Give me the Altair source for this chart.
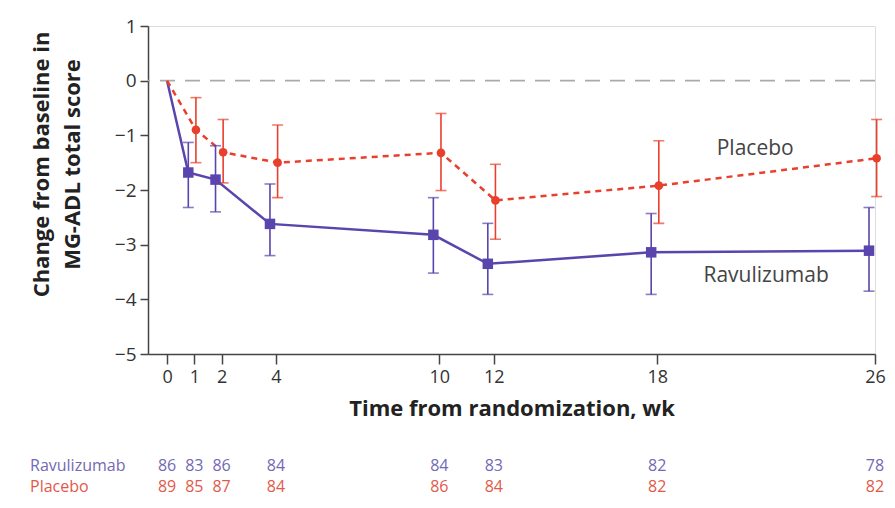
import altair as alt
import pandas as pd

weeks = [0, 1, 2, 4, 10, 12, 18, 26]
ravu_mean = [0, -1.68, -1.81, -2.62, -2.82, -3.35, -3.14, -3.11]
ravu_lo = [None, -2.32, -2.40, -3.20, -3.52, -3.91, -3.91, -3.85]
ravu_hi = [None, -1.13, -1.19, -1.89, -2.14, -2.61, -2.43, -2.32]
plac_mean = [0, -0.90, -1.31, -1.50, -1.32, -2.19, -1.92, -1.42]
plac_lo = [None, -1.50, -1.87, -2.14, -2.01, -2.90, -2.61, -2.12]
plac_hi = [None, -0.31, -0.71, -0.81, -0.60, -1.53, -1.10, -0.71]
ravu_n = [86, 83, 86, 84, 84, 83, 82, 78]
plac_n = [89, 85, 87, 84, 86, 84, 82, 82]
groups = ["Ravulizumab", "Placebo"]
y_ticks = [1, 0, -1, -2, -3, -4, -5]

PURPLE = "#5a44ad"
RED = "#e8402c"
PURPLE_T = "#7468b4"
RED_T = "#e2594a"
FONT = "Open Sans"

rows = []
for g, m, lo, hi, n in [
    ("Ravulizumab", ravu_mean, ravu_lo, ravu_hi, ravu_n),
    ("Placebo", plac_mean, plac_lo, plac_hi, plac_n),
]:
    for w, mm, l, h, nn in zip(weeks, m, lo, hi, n):
        rows.append({"group": g, "week": w, "mean": mm, "lo": l, "hi": h, "n": nn})
df = pd.DataFrame(rows)

xscale = alt.Scale(domain=[-0.7, 26], nice=False, zero=False)
yscale = alt.Scale(domain=[-5, 1], nice=False)
color = alt.Color("group:N", scale=alt.Scale(domain=groups, range=[PURPLE, RED]), legend=None)

base = alt.Chart(df).transform_calculate(
    xp="datum.week == 0 ? 0 : datum.week + (datum.group == 'Ravulizumab' ? -0.22 : 0.06)"
)

zero = alt.Chart(pd.DataFrame({"y": [0]})).mark_rule(
    color="#aaaaaa", strokeDash=[15, 10], strokeWidth=1.8
).encode(y=alt.Y("y:Q", scale=yscale))

x_enc = alt.X(
    "xp:Q", scale=xscale,
    axis=alt.Axis(values=weeks, title="Time from randomization, wk", format="d",
                  tickSize=10, labelPadding=4, titlePadding=12,
                  labelFontSize=18, titleFontSize=22, titleFontWeight="bold",
                  labelFont=FONT, titleFont=FONT,
                  labelColor="#333", titleColor="#222",
                  domainColor="#444", tickColor="#444", domainWidth=1.5, tickWidth=1.5,
                  grid=False, labelFlush=False),
)
y_enc = alt.Y(
    "mean:Q", scale=yscale,
    axis=alt.Axis(values=y_ticks, title=["Change from baseline in", "MG-ADL total score"],
                  tickSize=8, labelPadding=4, titlePadding=30, format="d",
                  labelFontSize=19, titleFontSize=22, titleFontWeight="bold",
                  titleLineHeight=31,
                  labelFont=FONT, titleFont=FONT, labelColor="#333", titleColor="#222",
                  domainColor="#444", tickColor="#444", domainWidth=1.5, tickWidth=1.5,
                  grid=False, titleY=138),
)

ravu_line = base.transform_filter("datum.group == 'Ravulizumab'").mark_line(
    color=PURPLE, strokeWidth=2.5
).encode(x=x_enc, y=y_enc)
plac_line = base.transform_filter("datum.group == 'Placebo'").mark_line(
    color=RED, strokeWidth=2.5, strokeDash=[6, 5]
).encode(x="xp:Q", y="mean:Q")

eb = base.transform_filter("datum.week > 0")
rules = eb.mark_rule(strokeWidth=1.6).encode(x="xp:Q", y="lo:Q", y2="hi:Q", color=color)
cap_lo = eb.mark_tick(orient="horizontal", size=11, thickness=1.6).encode(x="xp:Q", y="lo:Q", color=color)
cap_hi = eb.mark_tick(orient="horizontal", size=11, thickness=1.6).encode(x="xp:Q", y="hi:Q", color=color)

sq = eb.transform_filter("datum.group == 'Ravulizumab'").mark_point(
    shape="square", filled=True, size=110, opacity=1, color=PURPLE
).encode(x="xp:Q", y="mean:Q")
ci = eb.transform_filter("datum.group == 'Placebo'").mark_point(
    shape="circle", filled=True, size=75, opacity=1, color=RED
).encode(x="xp:Q", y="mean:Q")

lab_p = alt.Chart(pd.DataFrame({"t": ["Placebo"]})).mark_text(
    font=FONT, fontSize=21, color="#444"
).encode(x=alt.datum(21.6), y=alt.datum(-1.25), text="t:N")
lab_r = alt.Chart(pd.DataFrame({"t": ["Ravulizumab"]})).mark_text(
    font=FONT, fontSize=21, color="#444"
).encode(x=alt.datum(22.0), y=alt.datum(-3.57), text="t:N")

TS = 16
n_r = base.transform_filter("datum.group == 'Ravulizumab'").mark_text(
    font=FONT, fontSize=TS, color=PURPLE_T
).encode(x=alt.X("week:Q"), y=alt.value(440), text="n:Q")
n_p = base.transform_filter("datum.group == 'Placebo'").mark_text(
    font=FONT, fontSize=TS, color=RED_T
).encode(x=alt.X("week:Q"), y=alt.value(461), text="n:Q")

row_r = alt.Chart(pd.DataFrame({"t": ["Ravulizumab"]})).mark_text(
    font=FONT, fontSize=TS, color=PURPLE_T, align="left"
).encode(x=alt.value(-118), y=alt.value(440), text="t:N")
row_p = alt.Chart(pd.DataFrame({"t": ["Placebo"]})).mark_text(
    font=FONT, fontSize=TS, color=RED_T, align="left"
).encode(x=alt.value(-118), y=alt.value(461), text="t:N")

chart = alt.layer(
    ravu_line, zero, plac_line, rules, cap_lo, cap_hi, sq, ci,
    lab_p, lab_r, n_r, n_p, row_r, row_p
).properties(
    width=727, height=328,
    autosize=alt.AutoSizeParams(type="none"),
    padding={"left": 140, "top": 18, "right": 12, "bottom": 146},
).configure_view(stroke=None).configure(background="white")

chart.save("out.html", embed_options={"renderer": "svg", "actions": False})
